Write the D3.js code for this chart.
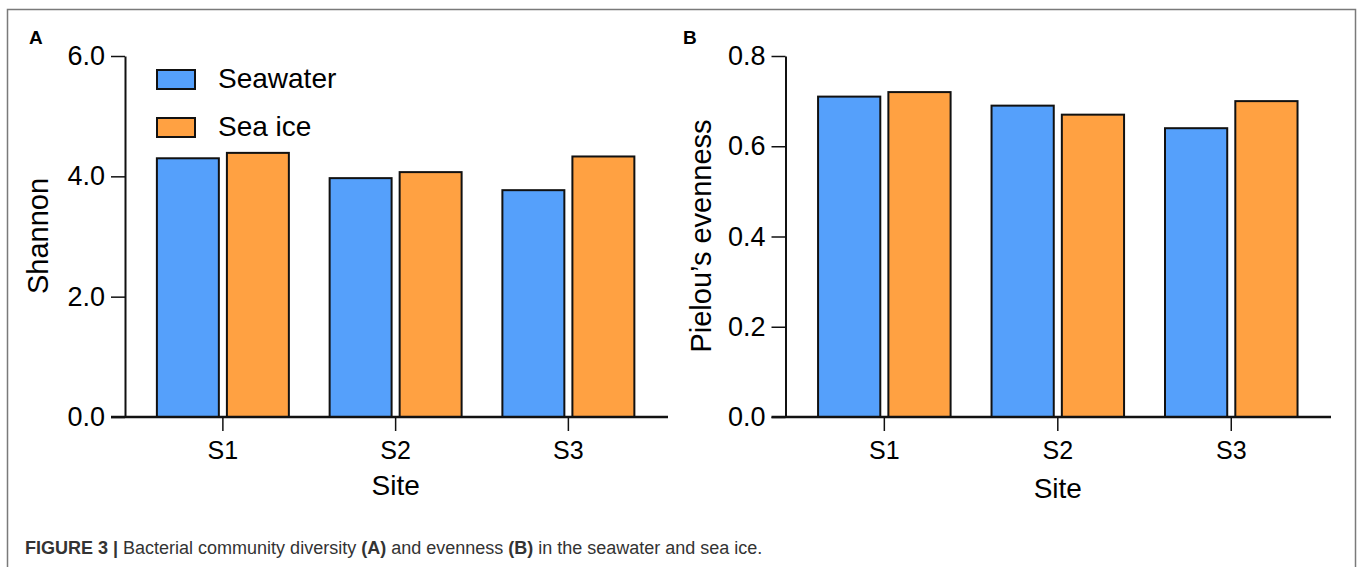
<!DOCTYPE html>
<html>
<head>
<meta charset="utf-8">
<script src="https://cdn.jsdelivr.net/npm/d3@7"></script>
<style>
	body { margin: 0; background: #fff; }
	svg { display: block; }
	text { font-family: Arial, 'Liberation Sans', sans-serif; fill: #000; }
</style>
</head>
<body>
<div id="figure"></div>
<script>
// data
let sites = ['S1', 'S2', 'S3']
let seriesNames = ['Seawater', 'Sea ice']
let seriesColors = ['#55a0fb', '#ffa142']

let shannonSeawater = [4.30, 3.97, 3.77]
let shannonSeaIce = [4.39, 4.07, 4.33]
let shannonTicks = [0, 2, 4, 6]

let evennessSeawater = [0.71, 0.69, 0.64]
let evennessSeaIce = [0.72, 0.67, 0.70]
let evennessTicks = [0, 0.2, 0.4, 0.6, 0.8]

let width = 1358
let height = 567

let svg = d3
	.select('#figure')
	.append('svg:svg')
	.attr('width', width)
	.attr('height', height)

// outer frame of the figure
svg.append('svg:rect')
	.attr('x', 7.5)
	.attr('y', 9.5)
	.attr('width', 1348)
	.attr('height', 600)
	.attr('fill', 'none')
	.attr('stroke', '#7a7a7a')
	.attr('stroke-width', 1.5)

let drawPanel = p => {
	let g = svg.append('svg:g')

	let y = d3.scaleLinear()
		.domain([0, p.ticks[p.ticks.length - 1]])
		.range([417, 56])

	let x0 = d3.scaleBand()
		.domain(sites)
		.range([p.left, p.right])
		.paddingInner(0.236)
		.paddingOuter(0.118)

	let x1 = d3.scaleBand()
		.domain(seriesNames)
		.range([0, x0.bandwidth()])
		.paddingInner(0.115)

	let rows = sites.map((s, i) => ({ site: s, values: [p.a[i], p.b[i]] }))

	// bars
	g.selectAll('g.site')
		.data(rows)
		.join('svg:g')
		.attr('class', 'site')
		.attr('transform', d => `translate(${x0(d.site)},0)`)
		.selectAll('rect')
		.data(d => d.values.map((v, j) => ({ key: seriesNames[j], v: v, j: j })))
		.join('svg:rect')
		.attr('x', d => x1(d.key))
		.attr('y', d => y(d.v))
		.attr('width', x1.bandwidth())
		.attr('height', d => y(0) - y(d.v))
		.attr('fill', d => seriesColors[d.j])
		.attr('stroke', '#111')
		.attr('stroke-width', 2)

	// y axis
	let yAxis = g.append('svg:g')
		.attr('transform', `translate(${p.axisX},0)`)
		.call(d3.axisLeft(y)
			.tickValues(p.ticks)
			.tickFormat(d3.format('.1f'))
			.tickSize(14)
			.tickSizeOuter(0)
			.tickPadding(6))
	yAxis.select('.domain').attr('stroke', '#111').attr('stroke-width', 2)
	yAxis.selectAll('.tick line').attr('stroke', '#111').attr('stroke-width', 1.5)
	yAxis.selectAll('.tick text')
		.attr('font-size', 27)
		.attr('font-family', 'Arial, Liberation Sans, sans-serif')
		.attr('fill', '#000')

	// x axis
	let xAxis = g.append('svg:g')
		.attr('transform', 'translate(0,417)')
		.call(d3.axisBottom(x0).tickSize(14).tickSizeOuter(0).tickPadding(10))
	xAxis.select('.domain').remove()
	xAxis.selectAll('.tick line').attr('stroke', '#111').attr('stroke-width', 1.5)
	xAxis.selectAll('.tick text')
		.attr('font-size', 25)
		.attr('font-family', 'Arial, Liberation Sans, sans-serif')
		.attr('fill', '#000')

	g.append('svg:line')
		.attr('x1', p.axisX - 14)
		.attr('x2', p.axisEnd)
		.attr('y1', y(0))
		.attr('y2', y(0))
		.attr('stroke', '#111')
		.attr('stroke-width', 2.5)

	// titles
	g.append('svg:text')
		.attr('transform', `translate(${p.yTitleX},236) rotate(-90)`)
		.attr('text-anchor', 'middle')
		.attr('font-size', 29)
		.text(p.yTitle)

	g.append('svg:text')
		.attr('x', (p.left + p.right) / 2)
		.attr('y', p.xTitleY)
		.attr('text-anchor', 'middle')
		.attr('font-size', 28)
		.text('Site')

	g.append('svg:text')
		.attr('x', p.labelX)
		.attr('y', 44)
		.attr('font-size', 19)
		.attr('font-weight', 'bold')
		.text(p.label)
}

drawPanel({
	label: 'A', labelX: 29,
	a: shannonSeawater, b: shannonSeaIce, ticks: shannonTicks,
	left: 136.5, right: 654.75, axisX: 125, axisEnd: 668,
	yTitle: 'Shannon', yTitleX: 48, xTitleY: 495
})

drawPanel({
	label: 'B', labelX: 683,
	a: evennessSeawater, b: evennessSeaIce, ticks: evennessTicks,
	left: 797.6, right: 1318, axisX: 785.5, axisEnd: 1331,
	yTitle: 'Pielou\u2019s evenness', yTitleX: 711, xTitleY: 498
})

// legend for panel A
let legend = svg.append('svg:g')
seriesNames.forEach((name, i) => {
	legend.append('svg:rect')
		.attr('x', 157)
		.attr('y', 70 + i * 48)
		.attr('width', 38)
		.attr('height', 19)
		.attr('fill', seriesColors[i])
		.attr('stroke', '#111')
		.attr('stroke-width', 2)
	legend.append('svg:text')
		.attr('x', 218)
		.attr('y', 88 + i * 48)
		.attr('font-size', 28)
		.text(name)
})

// caption
let caption = svg.append('svg:text')
	.attr('x', 25)
	.attr('y', 554)
	.attr('font-size', 18)
	.style('fill', '#333')
caption.append('tspan').attr('font-weight', 'bold').text('FIGURE 3 | ')
caption.append('tspan').text('Bacterial community diversity ')
caption.append('tspan').attr('font-weight', 'bold').text('(A)')
caption.append('tspan').text(' and evenness ')
caption.append('tspan').attr('font-weight', 'bold').text('(B)')
caption.append('tspan').text(' in the seawater and sea ice.')
</script>
</body>
</html>
